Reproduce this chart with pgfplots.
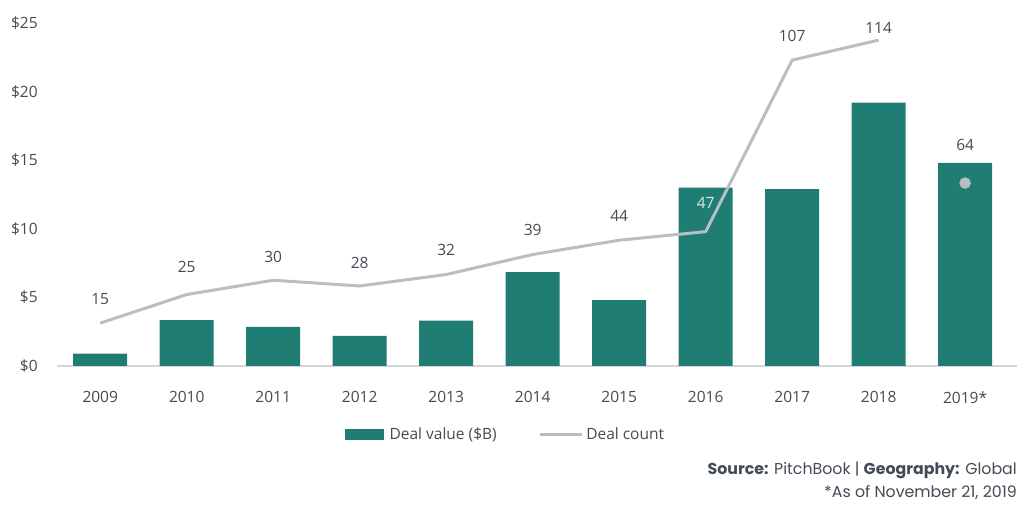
\documentclass[border=0pt]{standalone}
\usepackage{pgfplots}
\pgfplotsset{compat=1.18}
\usepackage{pgfplotstable}
\usepackage{fontspec}
\setmainfont{Open Sans}
\newfontfamily\notefont{Poppins}

\definecolor{dealgreen}{HTML}{1F7D73}
\definecolor{linegray}{HTML}{B8BEC5}
\definecolor{axisgray}{HTML}{D4D7DA}
\definecolor{labelgray}{HTML}{434B55}
\definecolor{lightlabel}{HTML}{DDE8E6}

% deal value in $B
\pgfplotstableread{
x value
0 0.9
1 3.35
2 2.85
3 2.2
4 3.3
5 6.85
6 4.8
7 13.0
8 12.9
9 19.2
10 14.8
}\valuetable

% deal count, ly = where its label sits
\pgfplotstableread{
x count ly
0 15 23.4
1 25 34.6
2 30 38.1
3 28 36.0
4 32 40.6
5 39 47.6
6 44 52.5
8 107 115.5
9 114 118.3
10 64 77.3
}\labeltable

\pgfplotstableread{
x count
0 15
1 25
2 30
3 28
4 32
5 39
6 44
7 47
8 107
9 114
}\counttable

\begin{document}
\fontsize{15.5}{18}\selectfont
\begin{tikzpicture}
\path[use as bounding box] (-57pt,-152pt) rectangle (965pt,366pt);

\begin{axis}[
    at={(0,0)}, anchor=south west,
    scale only axis, width=960pt, height=343pt,
    xmin=-0.5, xmax=10.6, ymin=0, ymax=25,
    axis x line*=bottom, axis y line*=left,
    x axis line style={draw=axisgray, line width=1.2pt, -},
    y axis line style={draw=none},
    tick style={draw=none},
    xtick={0,...,10},
    xticklabels={2009,2010,2011,2012,2013,2014,2015,2016,2017,2018,2019*},
    ytick={0,5,...,25},
    yticklabel={\$\pgfmathprintnumber{\tick}},
    /pgf/number format/assume math mode=true,
    ticklabel style={font=\fontsize{15.5}{18}\selectfont, text=labelgray},
    xticklabel style={yshift=-20pt},
    yticklabel style={xshift=-14pt},
    legend style={at={(0.467,-0.201)}, anchor=center, draw=none,
        font=\fontsize{15.5}{18}\selectfont, text=labelgray,
        /tikz/every even column/.append style={column sep=40pt}},
    legend columns=2,
    legend cell align=left,
]
\addplot[ybar, bar width=54pt, fill=dealgreen, draw=none,
    legend image code/.code={\path[draw=none, fill=none] (0pt,0pt) -- (43pt,0pt);
        \fill[dealgreen] (0pt,-5.5pt) rectangle (39pt,5.5pt);}]
    table[x=x, y=value]{\valuetable};
\addlegendentry{Deal value (\$B)}
\addlegendimage{legend image code/.code={\path[draw=none, fill=none] (0pt,0pt) -- (44pt,0pt);
    \draw[linegray, line width=3pt] (0pt,0pt) -- (42pt,0pt);}}
\addlegendentry{Deal count}
\end{axis}

\begin{axis}[
    at={(0,0)}, anchor=south west,
    scale only axis, width=960pt, height=343pt,
    xmin=-0.5, xmax=10.6, ymin=0, ymax=120,
    axis lines=none, clip=false,
]
\addplot[linegray, line width=3pt, line join=round, mark=none]
    table[x=x, y=count]{\counttable};
\addplot[only marks, mark=*, mark size=5.5pt, color=linegray]
    coordinates {(10,64)};
\addplot[draw=none, mark=none, nodes near coords, point meta=explicit symbolic,
    nodes near coords style={anchor=center, text=labelgray,
        font=\fontsize{15.5}{18}\selectfont}]
    table[x=x, y=ly, meta=count]{\labeltable};
\addplot[draw=none, mark=none, nodes near coords, point meta=explicit symbolic,
    nodes near coords style={anchor=center, text=lightlabel,
        font=\fontsize{15.5}{18}\selectfont}]
    coordinates {(7,57) [47]};
\end{axis}

\node[anchor=east, inner sep=0pt, text=labelgray, font=\notefont\fontsize{15.8}{18}\selectfont]
    at (960pt,-104pt) {\textbf{Source:} PitchBook | \textbf{Geography:} Global};
\node[anchor=east, inner sep=0pt, text=labelgray, font=\notefont\fontsize{15.8}{18}\selectfont]
    at (960pt,-127pt) {*As of November 21, 2019};
\end{tikzpicture}
\end{document}
